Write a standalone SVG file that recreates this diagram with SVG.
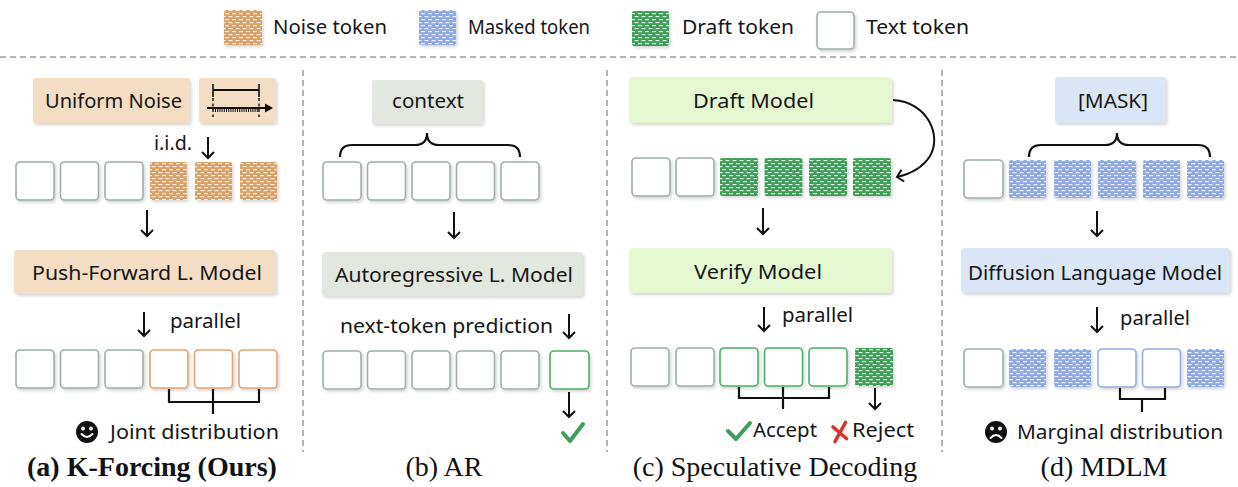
<svg xmlns="http://www.w3.org/2000/svg" width="1238" height="487" viewBox="0 0 1238 487">
<style>
.t{font-family:"Noto Sans","DejaVu Sans",sans-serif;font-size:19px;fill:#161616}
.cap{font-family:"Liberation Serif","Times New Roman",serif;font-size:28px;fill:#111}
.tok{fill:#fff;stroke:#9DAEAC;stroke-width:1.6}
.tokO{fill:#fff;stroke:#E2A574;stroke-width:1.6}
.tokG{fill:#fff;stroke:#4DAE68;stroke-width:1.6}
.tokB{fill:#fff;stroke:#94ABE6;stroke-width:1.6}
.noise{fill:url(#pNoise)}
.mask{fill:url(#pMask)}
.draft{fill:url(#pDraft)}
.ln{fill:none;stroke:#111;stroke-width:2.2}
.arr{fill:none;stroke:#111;stroke-width:2;marker-end:url(#ah)}
.sep{stroke:#9a9a9a;stroke-width:1.5;stroke-dasharray:6 4}
.bTan{fill:#F3DEC4}
.bGray{fill:#E2E7DF}
.bGreen{fill:#E5F8D2}
.bBlue{fill:#DAE6F5}
</style>
<defs>
<filter id="sh" x="-20%" y="-20%" width="140%" height="150%">
<feDropShadow dx="1.5" dy="2" stdDeviation="1.5" flood-color="#000" flood-opacity="0.16"/>
</filter>
<pattern id="pNoise" patternUnits="userSpaceOnUse" width="7" height="6">
<rect width="7" height="6" fill="#D9A068"/>
<rect x="1" y="1" width="4" height="1.2" fill="#fff" opacity="0.85"/>
<rect x="-2.5" y="4" width="4" height="1.2" fill="#fff" opacity="0.85"/>
<rect x="4.5" y="4" width="4" height="1.2" fill="#fff" opacity="0.85"/>
</pattern>
<pattern id="pMask" patternUnits="userSpaceOnUse" width="7" height="6">
<rect width="7" height="6" fill="#8EA8E6"/>
<rect x="1" y="1" width="4" height="1.2" fill="#fff" opacity="0.85"/>
<rect x="-2.5" y="4" width="4" height="1.2" fill="#fff" opacity="0.85"/>
<rect x="4.5" y="4" width="4" height="1.2" fill="#fff" opacity="0.85"/>
</pattern>
<pattern id="pDraft" patternUnits="userSpaceOnUse" width="7" height="6">
<rect width="7" height="6" fill="#3E9E58"/>
<rect x="1" y="1" width="4" height="1.2" fill="#fff" opacity="0.85"/>
<rect x="-2.5" y="4" width="4" height="1.2" fill="#fff" opacity="0.85"/>
<rect x="4.5" y="4" width="4" height="1.2" fill="#fff" opacity="0.85"/>
</pattern>
<marker id="ah" markerUnits="userSpaceOnUse" markerWidth="14" markerHeight="14" refX="7" refY="7" orient="auto" viewBox="0 0 14 14">
<path d="M1,1 L7,7 L1,13" fill="none" stroke="#111" stroke-width="2" stroke-linejoin="miter"/>
</marker>
</defs>

<rect width="1238" height="487" fill="#fff"/>

<!-- legend -->
<g id="legend">
<rect x="224" y="10" width="38" height="35" rx="2" class="noise" filter="url(#sh)"/>
<text class="t" x="273" y="34" textLength="114" lengthAdjust="spacingAndGlyphs">Noise token</text>
<rect x="419" y="10" width="37" height="35" rx="2" class="mask" filter="url(#sh)"/>
<text class="t" x="468" y="34" textLength="122" lengthAdjust="spacingAndGlyphs">Masked token</text>
<rect x="632" y="11" width="37" height="35" rx="2" class="draft" filter="url(#sh)"/>
<text class="t" x="682" y="34" textLength="112" lengthAdjust="spacingAndGlyphs">Draft token</text>
<rect x="817" y="12" width="37" height="37" rx="4" class="tok" filter="url(#sh)"/>
<text class="t" x="866" y="34" textLength="103" lengthAdjust="spacingAndGlyphs">Text token</text>
</g>

<g id="separators">
<line x1="0" y1="57" x2="1238" y2="57" class="sep"/>
<line x1="303" y1="70" x2="303" y2="452" class="sep"/>
<line x1="607" y1="70" x2="607" y2="452" class="sep"/>
<line x1="942" y1="70" x2="942" y2="452" class="sep"/>
</g>

<!-- Panel (a) -->
<g id="a-uniform-noise">
<rect x="33" y="78" width="157" height="45" rx="3" class="bTan" filter="url(#sh)"/>
<text class="t" x="45" y="108" textLength="137" lengthAdjust="spacingAndGlyphs">Uniform Noise</text>
</g>
<g id="a-uniform-icon">
<rect x="199" y="78" width="77" height="45" rx="3" class="bTan" filter="url(#sh)"/>
<line x1="213" y1="90" x2="259" y2="90" stroke="#111" stroke-width="2"/>
<line x1="213" y1="84" x2="213" y2="97" stroke="#111" stroke-width="1.6"/>
<line x1="259" y1="84" x2="259" y2="97" stroke="#111" stroke-width="1.6"/>
<line x1="213" y1="98" x2="213" y2="117" stroke="#111" stroke-width="1.4" stroke-dasharray="3 2.5"/>
<line x1="259" y1="98" x2="259" y2="117" stroke="#111" stroke-width="1.4" stroke-dasharray="3 2.5"/>
<line x1="207" y1="108" x2="267" y2="108" stroke="#111" stroke-width="2"/>
<path d="M265,103.5 L273,108 L265,112.5 Z" fill="#111"/>
<line x1="215" y1="110.5" x2="258" y2="110.5" stroke="#111" stroke-width="3" stroke-dasharray="1 1.2"/>
</g>
<text class="t" x="154" y="150" textLength="38" lengthAdjust="spacingAndGlyphs">i.i.d.</text>
<g id="a-tokens-in">
<rect x="16" y="162" width="38" height="38" rx="4" class="tok" filter="url(#sh)"/>
<rect x="60.5" y="162" width="38" height="38" rx="4" class="tok" filter="url(#sh)"/>
<rect x="105" y="162" width="38" height="38" rx="4" class="tok" filter="url(#sh)"/>
<rect x="150" y="162" width="37" height="38" rx="2" class="noise" filter="url(#sh)"/>
<rect x="195" y="162" width="37" height="38" rx="2" class="noise" filter="url(#sh)"/>
<rect x="240" y="162" width="37" height="38" rx="2" class="noise" filter="url(#sh)"/>
</g>
<g id="a-model">
<rect x="14" y="250" width="262" height="44" rx="4" class="bTan" filter="url(#sh)"/>
<text class="t" x="32" y="280" textLength="230" lengthAdjust="spacingAndGlyphs">Push-Forward L. Model</text>
</g>
<text class="t" x="170" y="328" textLength="71" lengthAdjust="spacingAndGlyphs">parallel</text>
<g id="a-tokens-out">
<rect x="16" y="350" width="38" height="38" rx="4" class="tok" filter="url(#sh)"/>
<rect x="60.5" y="350" width="38" height="38" rx="4" class="tok" filter="url(#sh)"/>
<rect x="105" y="350" width="38" height="38" rx="4" class="tok" filter="url(#sh)"/>
<rect x="150" y="350" width="38" height="38" rx="4" class="tokO" filter="url(#sh)"/>
<rect x="194.5" y="350" width="38" height="38" rx="4" class="tokO" filter="url(#sh)"/>
<rect x="239" y="350" width="38" height="38" rx="4" class="tokO" filter="url(#sh)"/>
</g>
<g id="a-joint">
<circle cx="87" cy="432" r="11" fill="#111"/>
<circle cx="83" cy="428.5" r="1.9" fill="#fff"/>
<circle cx="91" cy="428.5" r="1.9" fill="#fff"/>
<path d="M81.5,434 Q87,440 92.5,434" fill="none" stroke="#fff" stroke-width="2" stroke-linecap="round"/>
<text class="t" x="110" y="439" textLength="169" lengthAdjust="spacingAndGlyphs">Joint distribution</text>
</g>
<text class="cap" x="152" y="476" text-anchor="middle" font-weight="bold">(a) K-Forcing (Ours)</text>

<!-- Panel (b) -->
<g id="b-context">
<rect x="372" y="80" width="111" height="44" rx="3" class="bGray" filter="url(#sh)"/>
<text class="t" x="392" y="108" textLength="72" lengthAdjust="spacingAndGlyphs">context</text>
</g>
<g id="b-tokens-in">
<rect x="323" y="162" width="38" height="38" rx="4" class="tok" filter="url(#sh)"/>
<rect x="367.5" y="162" width="38" height="38" rx="4" class="tok" filter="url(#sh)"/>
<rect x="412" y="162" width="38" height="38" rx="4" class="tok" filter="url(#sh)"/>
<rect x="456.5" y="162" width="38" height="38" rx="4" class="tok" filter="url(#sh)"/>
<rect x="501" y="162" width="38" height="38" rx="4" class="tok" filter="url(#sh)"/>
</g>
<g id="b-model">
<rect x="322" y="252" width="261" height="44" rx="4" class="bGray" filter="url(#sh)"/>
<text class="t" x="335" y="282" textLength="238" lengthAdjust="spacingAndGlyphs">Autoregressive L. Model</text>
</g>
<text class="t" x="340" y="333" textLength="213" lengthAdjust="spacingAndGlyphs">next-token prediction</text>
<g id="b-tokens-out">
<rect x="323" y="351" width="38" height="38" rx="4" class="tok" filter="url(#sh)"/>
<rect x="367.5" y="351" width="38" height="38" rx="4" class="tok" filter="url(#sh)"/>
<rect x="412" y="351" width="38" height="38" rx="4" class="tok" filter="url(#sh)"/>
<rect x="456.5" y="351" width="38" height="38" rx="4" class="tok" filter="url(#sh)"/>
<rect x="501" y="351" width="38" height="38" rx="4" class="tok" filter="url(#sh)"/>
<rect x="550" y="351" width="39" height="38" rx="4" class="tokG" filter="url(#sh)"/>
</g>
<path id="b-check" d="M563,433 L570,441 L583,424" fill="none" stroke="#3E9E5E" stroke-width="4" stroke-linecap="round" stroke-linejoin="round"/>
<text class="cap" x="444" y="476" text-anchor="middle">(b) AR</text>

<!-- Panel (c) -->
<g id="c-draft-model">
<rect x="629" y="77" width="263" height="46" rx="4" class="bGreen" filter="url(#sh)"/>
<text class="t" x="693" y="108" textLength="121" lengthAdjust="spacingAndGlyphs">Draft Model</text>
</g>
<g id="c-tokens-in">
<rect x="632" y="158" width="38" height="38" rx="4" class="tok" filter="url(#sh)"/>
<rect x="676" y="158" width="38" height="38" rx="4" class="tok" filter="url(#sh)"/>
<rect x="720" y="158" width="38" height="38" rx="2" class="draft" filter="url(#sh)"/>
<rect x="764.5" y="158" width="38" height="38" rx="2" class="draft" filter="url(#sh)"/>
<rect x="809" y="158" width="38" height="38" rx="2" class="draft" filter="url(#sh)"/>
<rect x="853" y="158" width="38" height="38" rx="2" class="draft" filter="url(#sh)"/>
</g>
<g id="c-verify-model">
<rect x="629" y="248" width="263" height="45" rx="4" class="bGreen" filter="url(#sh)"/>
<text class="t" x="694" y="279" textLength="128" lengthAdjust="spacingAndGlyphs">Verify Model</text>
</g>
<text class="t" x="782" y="322" textLength="71" lengthAdjust="spacingAndGlyphs">parallel</text>
<g id="c-tokens-out">
<rect x="631" y="348" width="38" height="38" rx="4" class="tok" filter="url(#sh)"/>
<rect x="676" y="348" width="38" height="38" rx="4" class="tok" filter="url(#sh)"/>
<rect x="720" y="348" width="38" height="38" rx="4" class="tokG" filter="url(#sh)"/>
<rect x="764.5" y="348" width="38" height="38" rx="4" class="tokG" filter="url(#sh)"/>
<rect x="809" y="348" width="38" height="38" rx="4" class="tokG" filter="url(#sh)"/>
<rect x="855" y="348" width="38" height="38" rx="2" class="draft" filter="url(#sh)"/>
</g>
<g id="c-accept">
<path d="M728,431 L736,439 L750,423" fill="none" stroke="#3E9E5E" stroke-width="4" stroke-linecap="round" stroke-linejoin="round"/>
<text class="t" x="753" y="437" textLength="64" lengthAdjust="spacingAndGlyphs">Accept</text>
</g>
<g id="c-reject">
<path d="M845.5,422.5 L835,441.5 M833,427 L846.5,438.5" fill="none" stroke="#D8322B" stroke-width="3.6" stroke-linecap="round"/>
<text class="t" x="852" y="437" textLength="62" lengthAdjust="spacingAndGlyphs">Reject</text>
</g>
<text class="cap" x="775" y="476" text-anchor="middle">(c) Speculative Decoding</text>

<!-- Panel (d) -->
<g id="d-mask">
<rect x="1055" y="77" width="111" height="46" rx="3" class="bBlue" filter="url(#sh)"/>
<text class="t" x="1078" y="108" textLength="70" lengthAdjust="spacingAndGlyphs">[MASK]</text>
</g>
<g id="d-tokens-in">
<rect x="964" y="160" width="39" height="38" rx="4" class="tok" filter="url(#sh)"/>
<rect x="1009" y="160" width="37" height="38" rx="2" class="mask" filter="url(#sh)"/>
<rect x="1054" y="160" width="37" height="38" rx="2" class="mask" filter="url(#sh)"/>
<rect x="1098" y="160" width="38" height="38" rx="2" class="mask" filter="url(#sh)"/>
<rect x="1143" y="160" width="37" height="38" rx="2" class="mask" filter="url(#sh)"/>
<rect x="1187" y="160" width="37" height="38" rx="2" class="mask" filter="url(#sh)"/>
</g>
<g id="d-model">
<rect x="961" y="248" width="269" height="45" rx="4" class="bBlue" filter="url(#sh)"/>
<text class="t" x="968" y="280" textLength="254" lengthAdjust="spacingAndGlyphs">Diffusion Language Model</text>
</g>
<text class="t" x="1120" y="325" textLength="70" lengthAdjust="spacingAndGlyphs">parallel</text>
<g id="d-tokens-out">
<rect x="964" y="349" width="39" height="38" rx="4" class="tok" filter="url(#sh)"/>
<rect x="1009" y="349" width="37" height="38" rx="2" class="mask" filter="url(#sh)"/>
<rect x="1054" y="349" width="37" height="38" rx="2" class="mask" filter="url(#sh)"/>
<rect x="1098" y="349" width="38" height="38" rx="4" class="tokB" filter="url(#sh)"/>
<rect x="1142.5" y="349" width="38" height="38" rx="4" class="tokB" filter="url(#sh)"/>
<rect x="1187" y="349" width="37" height="38" rx="2" class="mask" filter="url(#sh)"/>
</g>
<g id="d-marginal">
<circle cx="996" cy="432" r="11" fill="#111"/>
<circle cx="992" cy="428.5" r="1.9" fill="#fff"/>
<circle cx="1000" cy="428.5" r="1.9" fill="#fff"/>
<path d="M990.5,438 Q996,432 1001.5,438" fill="none" stroke="#fff" stroke-width="2" stroke-linecap="round"/>
<text class="t" x="1017" y="439" textLength="206" lengthAdjust="spacingAndGlyphs">Marginal distribution</text>
</g>
<text class="cap" x="1104" y="476" text-anchor="middle">(d) MDLM</text>

<!-- connectors -->
<g id="connectors">
<path class="arr" d="M208,137 V158"/>
<path class="arr" d="M147,210 V236"/>
<path class="arr" d="M144,312 V336"/>
<path class="ln" d="M169,389 V402 H259 V389 M213,389 V414"/>

<path class="ln" d="M340,157 Q340,145 352,145 L415,145 Q427,145 427,133 Q427,145 439,145 L508,145 Q520,145 520,157"/>
<path class="arr" d="M454,212 V238"/>
<path class="arr" d="M569,314 V338"/>
<path class="arr" d="M569,392 V417"/>

<path class="arr" d="M893,100 C928,102 942,136 930,156 C922,169 910,174 897,177"/>
<path class="arr" d="M763,208 V234"/>
<path class="arr" d="M764,307 V331"/>
<path class="arr" d="M875,388 V409"/>
<path class="ln" d="M739,387 V398 H829 V387 M783,387 V409"/>

<path class="ln" d="M1029,157 Q1029,145 1041,145 L1105,145 Q1117,145 1117,133 Q1117,145 1129,145 L1198,145 Q1210,145 1210,157"/>
<path class="arr" d="M1097,211 V236"/>
<path class="arr" d="M1097,307 V332"/>
<path class="ln" d="M1120,388 V399 H1165 V388 M1142,399 V412"/>
</g>
</svg>
